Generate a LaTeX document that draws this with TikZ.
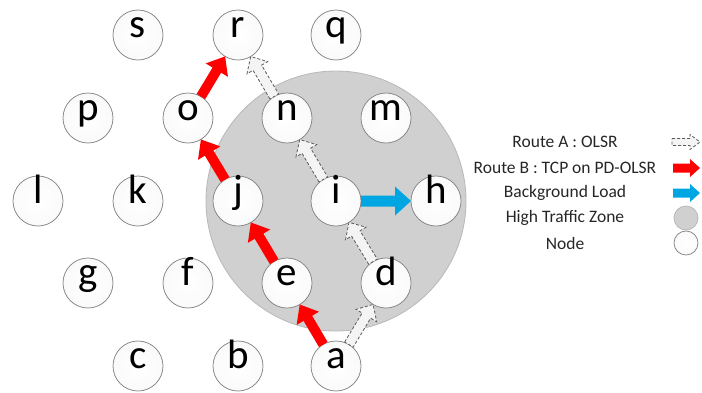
\documentclass[tikz,border=0pt]{standalone}
\usepackage{fontspec}
\setmainfont{Carlito}
\usetikzlibrary{calc}
\definecolor{zonefill}{HTML}{D0D0D0}
\definecolor{zoneedge}{HTML}{B8B8B8}
\definecolor{routeb}{HTML}{FF0000}
\definecolor{loadblue}{HTML}{00A6E2}
\definecolor{nodeedge}{HTML}{858585}
\definecolor{dashedge}{HTML}{5A5A5A}
\definecolor{dashfill}{HTML}{F4F4F4}

% block arrow between two points:
% #1 style, #2 tail, #3 head, #4 tail gap, #5 tip gap,
% #6 head-base distance from head point, #7 shaft half width, #8 head half width
\newcommand\blockarrow[8]{%
  \path[#1]
    ($(#2)!#4!(#3)!#7!90:(#3)$)
    -- ($(#3)!#6!(#2)!#7!-90:(#2)$)
    -- ($(#3)!#6!(#2)!#8!-90:(#2)$)
    -- ($(#3)!#5!(#2)$)
    -- ($(#3)!#6!(#2)!#8!90:(#2)$)
    -- ($(#3)!#6!(#2)!#7!90:(#2)$)
    -- ($(#2)!#4!(#3)!#7!-90:(#3)$)
    -- cycle;}

\tikzset{
  station/.style={circle, minimum size=50pt, inner sep=0pt, draw=nodeedge,
    line width=0.75pt, shading=radial, inner color=white, outer color=black!2,
    font=\fontsize{41}{41}\selectfont, text height=0.68em, text depth=0.18em},
  smallstation/.style={station, minimum size=24pt},
  zone/.style={fill=zonefill, draw=zoneedge, line width=0.8pt},
  olsr/.style={draw=dashedge, fill=dashfill, line width=0.8pt,
    dash pattern=on 3pt off 2pt, line join=miter},
  tcp/.style={fill=routeb},
  load/.style={fill=loadblue},
  legendtext/.style={font=\fontsize{17.5}{18}\selectfont, text=black!85, anchor=center}
}

\begin{document}
\begin{tikzpicture}[x=1pt, y=-1pt]
  \useasboundingbox (0,0) rectangle (702,392);

  % high traffic zone
  \node[zone, circle, minimum size=260pt, inner sep=0pt] (zone) at (336,201) {};

  % nodes
  \node[station] (s) at (138,35) {s};
  \node[station] (r) at (238,35) {r};
  \node[station] (q) at (336,35) {q};
  \node[station] (p) at (88,118) {p};
  \node[station] (o) at (188,118) {o};
  \node[station] (n) at (287,118) {n};
  \node[station] (m) at (386,118) {m};
  \node[station] (l) at (38,201) {l};
  \node[station] (k) at (138,201) {k};
  \node[station] (j) at (238,201) {j};
  \node[station] (i) at (336,201) {i};
  \node[station] (h) at (436,201) {h};
  \node[station] (g) at (88,283) {g};
  \node[station] (f) at (188,283) {f};
  \node[station] (e) at (287,283) {e};
  \node[station] (d) at (386,283) {d};
  \node[station] (c) at (138,366) {c};
  \node[station] (b) at (238,366) {b};
  \node[station] (a) at (336,366) {a};

  % route B : TCP on PD-OLSR
  \blockarrow{tcp}{a}{e}{25pt}{25pt}{41pt}{5pt}{13pt}
  \blockarrow{tcp}{e}{j}{25pt}{25pt}{41pt}{5pt}{13pt}
  \blockarrow{tcp}{j}{o}{25pt}{25pt}{41pt}{5pt}{13pt}
  \blockarrow{tcp}{o}{r}{25pt}{25pt}{41pt}{5pt}{13pt}

  % route A : OLSR
  \blockarrow{olsr}{a}{d}{25pt}{25pt}{38pt}{5pt}{12pt}
  \blockarrow{olsr}{d}{i}{25pt}{25pt}{38pt}{5pt}{12pt}
  \blockarrow{olsr}{i}{n}{25pt}{25pt}{38pt}{5pt}{12pt}
  \blockarrow{olsr}{n}{r}{25pt}{25pt}{38pt}{5pt}{12pt}

  % background load
  \blockarrow{load}{i}{h}{25pt}{25pt}{41pt}{5.5pt}{14.5pt}

  % legend
  \node[legendtext] (la) at (565,142) {Route A : OLSR};
  \node[legendtext] (lb) at (565,168) {Route B : TCP on PD-OLSR};
  \node[legendtext] (lc) at (565,193) {Background Load};
  \node[legendtext] (ld) at (565,218) {High Traffic Zone};
  \node[legendtext] (le) at (565,243) {Node};

  \coordinate (la0) at (672,142);
  \coordinate (la1) at (700,142);
  \coordinate (lb0) at (673,168);
  \coordinate (lb1) at (700,168);
  \coordinate (lc0) at (673,193);
  \coordinate (lc1) at (700,193);
  \blockarrow{olsr}{la0}{la1}{0pt}{0pt}{10pt}{3.5pt}{7.5pt}
  \blockarrow{tcp}{lb0}{lb1}{0pt}{0pt}{10pt}{4.5pt}{9pt}
  \blockarrow{load}{lc0}{lc1}{0pt}{0pt}{10pt}{4.5pt}{9pt}

  \node[zone, circle, minimum size=24pt, inner sep=0pt] (lzone) at (686,218) {};
  \node[smallstation] (lnode) at (686,243) {};
\end{tikzpicture}
\end{document}
